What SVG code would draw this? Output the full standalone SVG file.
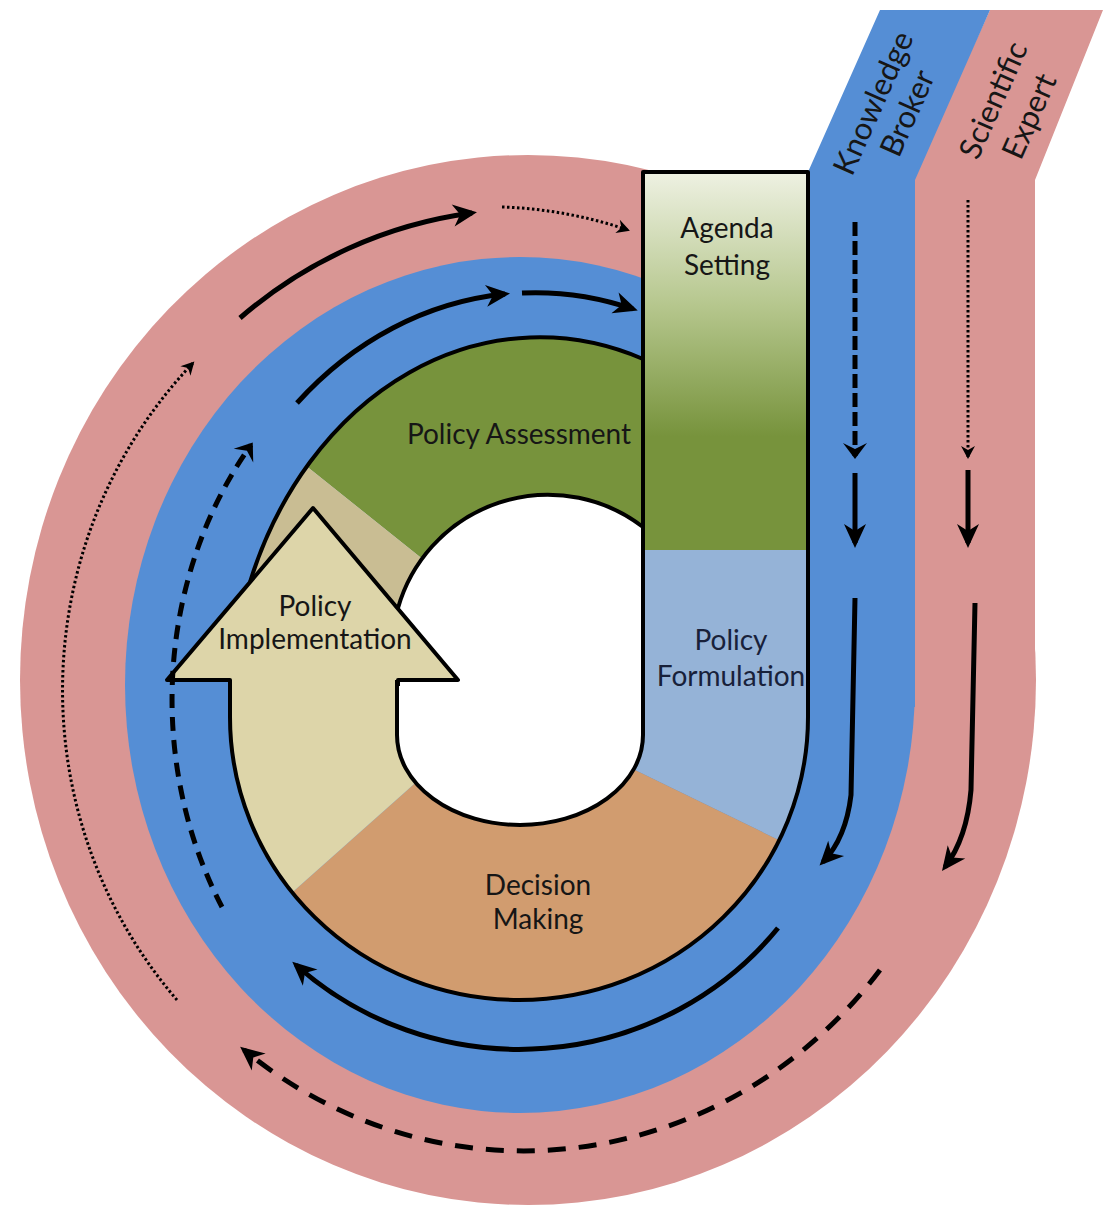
<svg xmlns="http://www.w3.org/2000/svg" width="1103" height="1217" viewBox="0 0 1103 1217">
<defs>
<style>
.lbl{font-family:Lato,"Open Sans","DejaVu Sans",sans-serif;font-size:28px;fill:#161616;text-anchor:middle}
.rot{font-size:31px}
.out{fill:none;stroke:#000;stroke-width:4;stroke-linejoin:round}
.con{fill:none;stroke:#000;stroke-width:5}
.thin{fill:none;stroke:#000;stroke-width:3}
</style>
<linearGradient id="agendaGrad" gradientUnits="userSpaceOnUse" x1="0" y1="172" x2="0" y2="550">
<stop offset="0" stop-color="#eef1e2"/>
<stop offset="0.35" stop-color="#b6c78e"/>
<stop offset="0.7" stop-color="#77933c"/>
<stop offset="1" stop-color="#77933c"/>
</linearGradient>
<clipPath id="ringClip">
<path clip-rule="evenodd" d="M643 172 L808 172 L808 717 A289 283 0 0 1 519 1000 A289 283 0 0 1 230 717 A310 380 0 0 1 643 359 Z M397 612 A156 156 0 0 1 643 527 L643 735 A123 90 0 0 1 397 735 Z"/>
</clipPath>
<marker id="head" viewBox="-22 -12 28 24" refX="0" refY="0" markerWidth="28" markerHeight="24" markerUnits="userSpaceOnUse" orient="auto"><path d="M5 0 L-19 -11 L-12 0 L-19 11 Z" fill="#000"/></marker>
<marker id="chev" viewBox="-16 -10 20 20" refX="0" refY="0" markerWidth="20" markerHeight="20" markerUnits="userSpaceOnUse" orient="auto"><path d="M2 0 L-11 -7 L-7 0 L-11 7 Z" fill="#000"/></marker>
<marker id="chevB" viewBox="-18 -14 24 28" refX="0" refY="0" markerWidth="24" markerHeight="28" markerUnits="userSpaceOnUse" orient="auto"><path d="M3 0 L-13 -12 L-7 0 L-13 12 Z" fill="#000"/></marker>
</defs>
<rect x="0" y="0" width="1103" height="1217" fill="#fff"/>

<g id="scientific-expert">
<ellipse cx="528" cy="680" rx="508" ry="525" fill="#d99694"/>
<polygon points="912,180 990,10 1103,10 1035,180 1035,690 912,690" fill="#d99694"/>
<text class="lbl rot" transform="translate(993,100) rotate(-66)" y="11">Scientific</text>
<text class="lbl rot" transform="translate(1029,116) rotate(-66)" y="11">Expert</text>
</g>

<g id="knowledge-broker">
<ellipse cx="520" cy="685" rx="395" ry="428" fill="#558ed5"/>
<polygon points="808,172 880,10 990,10 915,180 915,707 808,707" fill="#558ed5"/>
<text class="lbl rot" transform="translate(873,103) rotate(-66)" y="11">Knowledge</text>
<text class="lbl rot" transform="translate(907,113) rotate(-66)" y="11">Broker</text>
</g>

<g id="policy-assessment">
<polygon clip-path="url(#ringClip)" points="200,250 643,250 643,550 600,550 480,605 250,421" fill="#77933c"/>
<text class="lbl" x="519" y="444">Policy Assessment</text>
</g>

<g id="agenda-setting">
<rect x="643" y="172" width="165" height="378" fill="url(#agendaGrad)"/>
<text class="lbl" x="727" y="238">Agenda</text>
<text class="lbl" x="727" y="275">Setting</text>
</g>

<g id="policy-formulation">
<polygon clip-path="url(#ringClip)" points="643,550 830,550 830,865 600,753 600,550" fill="#95b3d7"/>
<text class="lbl" x="731" y="650" style="fill:#18213a">Policy</text>
<text class="lbl" x="731" y="686" style="fill:#18213a">Formulation</text>
</g>

<g id="decision-making">
<polygon clip-path="url(#ringClip)" points="440,761 250,930 250,1050 850,1050 830,865 600,753" fill="#d19c6f"/>
<text class="lbl" x="538" y="895">Decision</text>
<text class="lbl" x="538" y="929">Making</text>
</g>

<g id="cycle-hole">
<path d="M397 612 A156 156 0 0 1 643 527 L643 735 A123 90 0 0 1 397 735 Z" fill="#fff"/>
</g>

<g id="policy-implementation">
<polygon clip-path="url(#ringClip)" points="250,421 480,605 440,761 250,930 100,930 100,421" fill="#ddd5a9"/>
<polygon clip-path="url(#ringClip)" points="140,680 167,680 313,508 458,680 480,605 250,421 140,421" fill="#c9bd93"/>
<polygon points="167,680 313,508 458,680 398,680 398,700 230,700 230,680" fill="#ddd5a9"/>
<path class="out" d="M230 686 L230 680 L167 680 L313 508 L458 680 L398 680 L398 686"/>
<text class="lbl" x="315" y="616">Policy</text>
<text class="lbl" x="315" y="649">Implementation</text>
</g>

<g id="cycle-outline">
<path class="out" d="M250 582 A310 380 0 0 1 643 359 L643 172 L808 172 L808 717 A289 283 0 0 1 519 1000 A289 283 0 0 1 230 717 L230 680"/>
<path class="out" d="M643 359 L643 527"/>
<path class="out" d="M398 608 A156 156 0 0 1 643 527 L643 735 A123 90 0 0 1 397 735 L397 680"/>
</g>

<g id="connectors">
<path class="con" d="M240 318 A455 478 0 0 1 472 213" marker-end="url(#head)"/>
<path class="thin" stroke-dasharray="2.5 2.5" d="M502 207 A455 478 0 0 1 628 230" marker-end="url(#chev)"/>
<path class="thin" stroke-dasharray="2.5 2.5" d="M177 1000 A462 470 0 0 1 193 363" marker-end="url(#chev)"/>
<path class="con" stroke-width="4" stroke-dasharray="18 13" d="M880 970 A455 478 0 0 1 244 1050" marker-end="url(#head)"/>
<path class="thin" stroke-dasharray="2.5 2.5" d="M968 200 L968 457" marker-end="url(#chev)"/>
<path class="con" d="M968 470 L968 543" marker-end="url(#head)"/>
<path class="con" d="M975 603 L971 790 Q967 838 945 867" marker-end="url(#head)"/>
<path class="con" d="M297 403 A343 395 0 0 1 505 294" marker-end="url(#head)"/>
<path class="con" d="M522 293 A343 395 0 0 1 633 309" marker-end="url(#head)"/>
<path class="con" stroke-dasharray="14 9" d="M222 907 A345 400 0 0 1 251 445" marker-end="url(#chevB)"/>
<path class="con" d="M778 928 A330 320 0 0 1 296 965" marker-end="url(#head)"/>
<path class="con" stroke-dasharray="14 5" d="M855 222 L855 456" marker-end="url(#chevB)"/>
<path class="con" d="M855 473 L855 543" marker-end="url(#head)"/>
<path class="con" d="M855 598 L851 795 Q846 838 823 862" marker-end="url(#head)"/>
</g>
</svg>
